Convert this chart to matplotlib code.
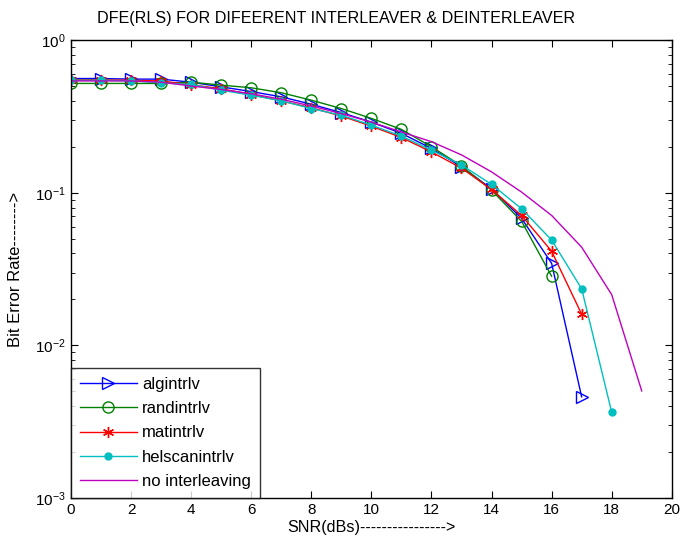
import numpy as np
import matplotlib
matplotlib.use("Agg")
import matplotlib.pyplot as plt

plt.rcParams['font.family'] = ['Liberation Sans', 'DejaVu Sans']

# SNR em dB
snr = np.arange(0, 20)

# BER
ber_alg = [0.56, 0.56, 0.555, 0.555, 0.53, 0.494, 0.46, 0.425, 0.38, 0.335, 0.29,
           0.245, 0.195, 0.148, 0.106, 0.068, 0.0345, 0.0046]
ber_rand = [0.52, 0.52, 0.52, 0.52, 0.53, 0.507, 0.487, 0.452, 0.404, 0.356, 0.307,
            0.26, 0.2, 0.15, 0.104, 0.065, 0.0284]
ber_mat = [0.55, 0.55, 0.545, 0.54, 0.51, 0.48, 0.44, 0.40, 0.36, 0.318, 0.273,
           0.23, 0.185, 0.145, 0.105, 0.071, 0.0414, 0.016]
ber_hel = [0.546, 0.546, 0.541, 0.525, 0.512, 0.47, 0.435, 0.40, 0.356, 0.322, 0.277,
           0.235, 0.19, 0.152, 0.1135, 0.0785, 0.049, 0.0235, 0.00365]
ber_none = [0.54, 0.54, 0.54, 0.53, 0.50, 0.475, 0.445, 0.41, 0.37, 0.33, 0.29,
            0.25, 0.216, 0.177, 0.137, 0.101, 0.071, 0.044, 0.0215, 0.00503]

fig = plt.figure(figsize=(6.82, 5.53), dpi=100)
ax = fig.add_axes([0.104, 0.0995, 0.881, 0.828])

ax.semilogy(snr[:len(ber_alg)], ber_alg, color='#0000ff', marker='>', markersize=8,
            markerfacecolor='none', lw=1, label='algintrlv')
ax.semilogy(snr[:len(ber_rand)], ber_rand, color='#008000', marker='o', markersize=8,
            markerfacecolor='none', lw=1, label='randintrlv')
ax.semilogy(snr[:len(ber_mat)], ber_mat, color='#ff0000', marker=(6, 2, 0), markersize=8,
            lw=1, label='matintrlv')
ax.semilogy(snr[:len(ber_hel)], ber_hel, color='#00bfbf', marker='.', markersize=10,
            lw=1, label='helscanintrlv')
ax.semilogy(snr[:len(ber_none)], ber_none, color='#bf00bf', lw=1, label='no interleaving')

ax.set_xlim(0, 20)
ax.set_ylim(1e-3, 1)
ax.set_xticks(np.arange(0, 21, 2))
ax.tick_params(which='both', direction='in', top=True, right=True, labelsize=11)
ax.tick_params(which='major', length=5)
ax.tick_params(which='minor', length=3)
for s in ax.spines.values():
    s.set_linewidth(1)

ax.set_title('DFE(RLS) FOR DIFEERENT INTERLEAVER & DEINTERLEAVER', fontsize=11.6,
             x=0.441, pad=12)
ax.set_xlabel('SNR(dBs)---------------->', fontsize=11.6, labelpad=2)
ax.set_ylabel('Bit Error Rate-------->', fontsize=12)
ax.yaxis.set_label_coords(-0.08, 0.5)

leg = ax.legend(loc='lower left', fontsize=12, fancybox=False, edgecolor='black',
                borderaxespad=0, handlelength=3.4, handletextpad=0.3,
                labelspacing=0.55, borderpad=0.55)
leg.get_frame().set_linewidth(1)

plt.savefig('out.png', dpi=100)
